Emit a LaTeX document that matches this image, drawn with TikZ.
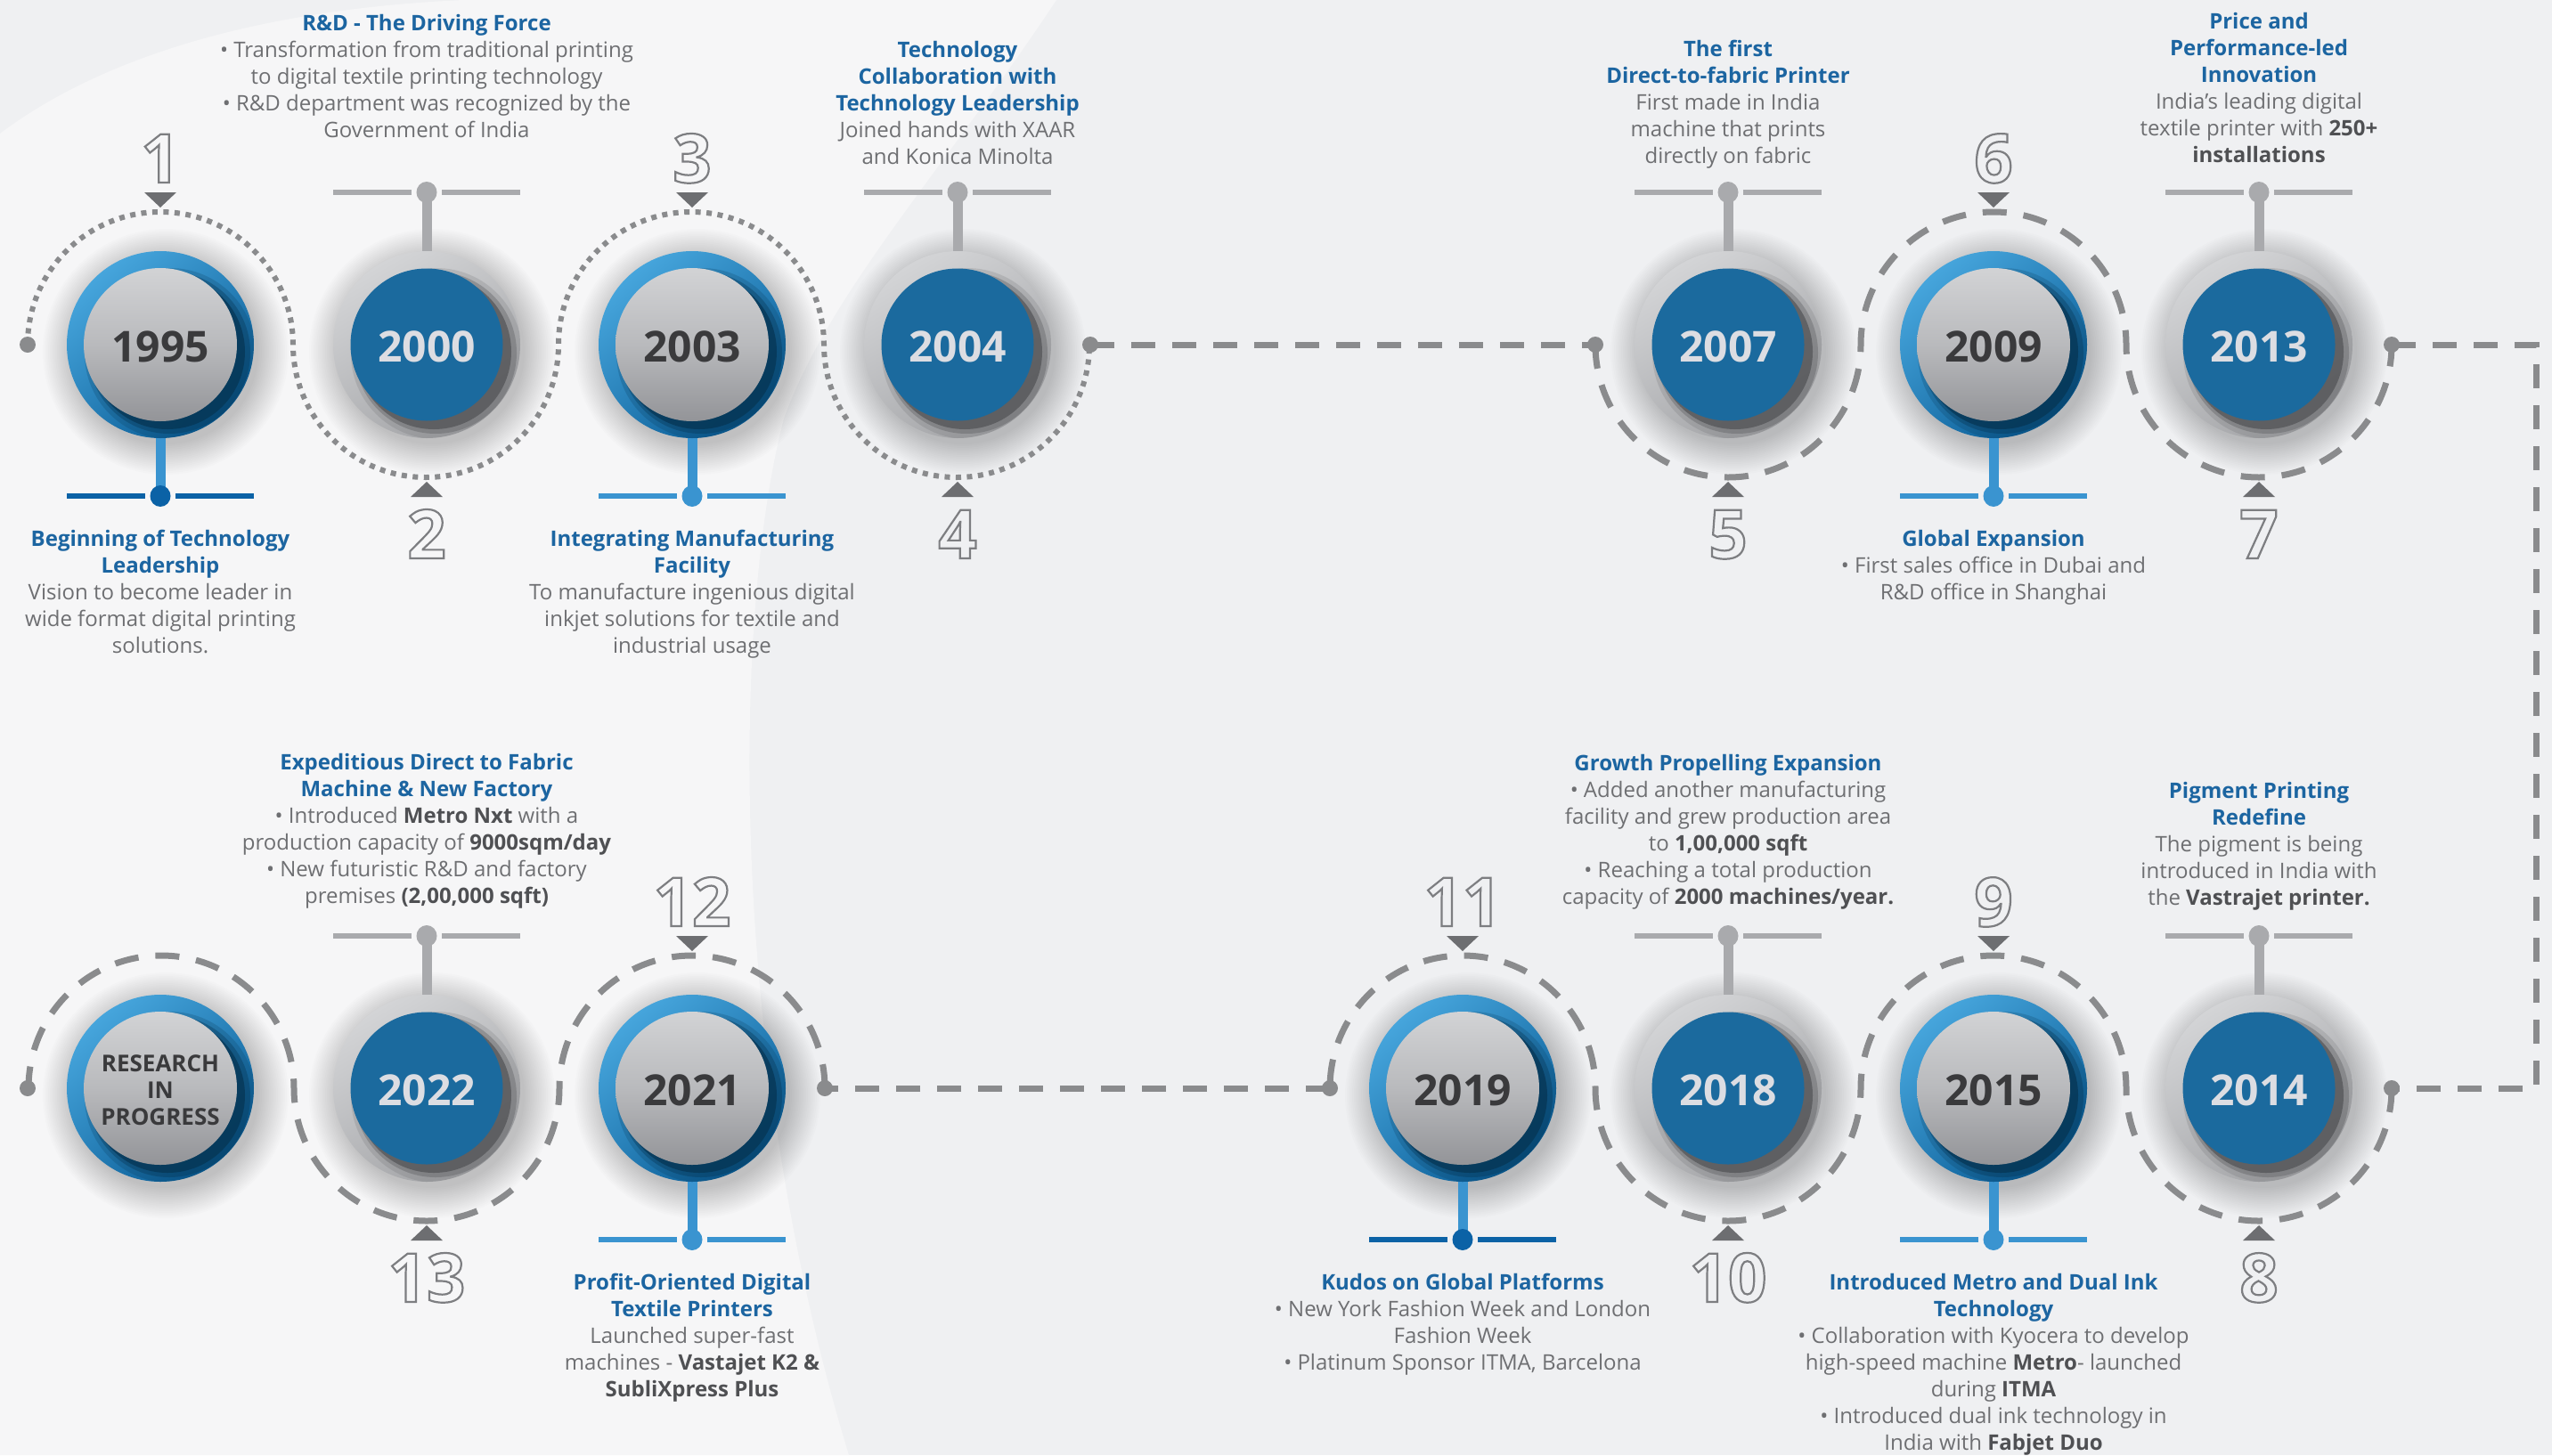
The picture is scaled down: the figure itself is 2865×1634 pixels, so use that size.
\documentclass[tikz,border=0pt]{standalone}
\usepackage{fontspec}
\setmainfont{Open Sans}
\usetikzlibrary{calc}
\definecolor{bgA}{HTML}{EFF0F2}
\definecolor{bgB}{HTML}{F6F6F7}
\definecolor{ttlc}{HTML}{1C65A1}
\definecolor{bodyc}{HTML}{6E6F72}
\definecolor{boldc}{HTML}{4F5053}
\definecolor{disc}{HTML}{1B6A9E}
\definecolor{yearw}{HTML}{DCDDE2}
\definecolor{yeard}{HTML}{3A3A3C}
\definecolor{lineg}{HTML}{8A8B8D}
\definecolor{trig}{HTML}{6D6E71}
\definecolor{pingray}{HTML}{A9AAAD}
\definecolor{pindark}{HTML}{0B62A6}
\definecolor{pinlight}{HTML}{3A94D0}
\definecolor{ringblueL}{HTML}{46A5DC}
\definecolor{ringblueD}{HTML}{0A5C95}
\definecolor{navy}{HTML}{05324F}
\definecolor{ringgrayL}{HTML}{D3D4D6}
\definecolor{ringgrayD}{HTML}{A3A4A7}
\definecolor{shad}{HTML}{48494C}
\definecolor{ballL}{HTML}{D2D3D5}
\definecolor{ballD}{HTML}{939498}
\definecolor{digit}{HTML}{7D7E81}
\newcommand\ttl[1]{\textcolor{ttlc}{\bfseries #1}}
\newcommand\bb[1]{\textcolor{boldc}{\bfseries #1}}
\newcommand\outl[1]{\special{pdf:literal direct 1 Tr 2.2 w}#1\special{pdf:literal direct 0 Tr}}
\tikzset{
  txt/.style={align=center, inner sep=0pt, font=\fontsize{24}{30}\selectfont, text=bodyc},
  yr/.style={inner sep=0pt, font=\fontsize{48}{48}\selectfont\bfseries},
  onum/.style={inner sep=0pt, font=\fontsize{76}{76}\selectfont\bfseries, text=digit},
  dotln/.style={draw=lineg, line width=6pt, dash pattern=on 6pt off 6.5pt},
  dashln/.style={draw=lineg, line width=7pt, dash pattern=on 27pt off 19pt},
}
\newcommand\halo[2]{%
  \foreach \k in {0,...,17} {\fill[black,opacity=.01] (#1+6,#2+8) circle[radius=104pt+\k*2pt];}
}
\newcommand\gcirc[4]{% name, x, y, year
  \shade[top color=ringgrayL,bottom color=ringgrayD,shading angle=30] (#2,#3) circle[radius=105pt];
  \begin{scope}
    \clip (#2,#3) circle[radius=105pt];
    \fill[shad,opacity=.15] (#2+11,#3+10) circle[radius=96pt];
    \fill[shad,opacity=.3] (#2+10,#3+9) circle[radius=91pt];
    \fill[shad,opacity=.6] (#2+8,#3+8) circle[radius=87pt];
  \end{scope}
  \fill[disc] (#2,#3) circle[radius=85.5pt];
  \node[yr,text=yearw] (#1) at (#2,#3+2) {#4};
}
\newcommand\bcirc[3]{% x, y
  \shade[top color=ringblueL,bottom color=ringblueD,shading angle=40] (#1,#2) circle[radius=105pt];
  \begin{scope}
    \clip (#1,#2) circle[radius=105pt];
    \fill[navy,opacity=.2] (#1+11,#2+10) circle[radius=96pt];
    \fill[navy,opacity=.35] (#1+10,#2+9) circle[radius=91pt];
    \fill[navy,opacity=.65] (#1+8,#2+8) circle[radius=87pt];
  \end{scope}
  \shade[top color=ballL,bottom color=ballD,middle color=ballL!60!ballD] (#1,#2) circle[radius=86pt];
}
\newcommand\pintop[3]{% x, cy, color
  \fill[#3] (#1-5.5,#2-171) rectangle (#1+5.5,#2-100);
  \fill[#3] (#1-105,#2-174.2) rectangle (#1-17,#2-167.8);
  \fill[#3] (#1+17,#2-174.2) rectangle (#1+105,#2-167.8);
  \fill[#3] (#1,#2-171) ellipse[x radius=11.5pt,y radius=12pt];
}
\newcommand\pinbot[3]{% x, cy, bar color
  \fill[pinlight] (#1-5.5,#2+100) rectangle (#1+5.5,#2+170);
  \fill[#3] (#1-105,#2+166.8) rectangle (#1-17,#2+173.2);
  \fill[#3] (#1+17,#2+166.8) rectangle (#1+105,#2+173.2);
  \fill[#3] (#1,#2+170) ellipse[x radius=11.5pt,y radius=12pt];
}
\newcommand\tritop[2]{\fill[trig] (#1-18,#2-171) -- (#1+18,#2-171) -- (#1,#2-154) -- cycle;}
\newcommand\tribot[2]{\fill[trig] (#1-18,#2+171) -- (#1+18,#2+171) -- (#1,#2+154) -- cycle;}
\newcommand\numtop[4]{\node[onum,anchor=base] (#1) at (#2,#3-182) {\outl{#4}};}
\newcommand\numbot[4]{\node[onum,anchor=base] (#1) at (#2,#3+240) {\outl{#4}};}
\begin{document}
\begin{tikzpicture}[x=1pt,y=-1pt]
\useasboundingbox (0,0) rectangle (2865,1634);
% background
\fill[bgA] (0,0) rectangle (2865,1634);
\fill[bgB] (0,150) .. controls (120,60) and (300,10) .. (520,0) -- (1186,0)
  .. controls (1060,190) and (930,330) .. (880,470)
  .. controls (820,700) and (820,1200) .. (953,1634) -- (0,1634) -- cycle;
% halos
\foreach \x in {180,479,777,1075,1940,2238,2536} {\halo{\x}{387}}
\foreach \x in {180,479,777,1642,1940,2238,2536} {\halo{\x}{1222}}
% chains
\coordinate (d1) at (31,387);
\coordinate (d2) at (1224,387);
\coordinate (d3) at (1791,387);
\coordinate (d4) at (2685,387);
\coordinate (d5) at (2685,1222);
\coordinate (d6) at (1493,1222);
\coordinate (d7) at (926,1222);
\coordinate (d8) at (31,1222);
\coordinate (c1) at (2847,387);
\coordinate (c2) at (2847,1222);
\draw[dotln] (d1) arc[start angle=180,end angle=0,radius=149pt]
  arc[start angle=180,end angle=360,radius=149pt]
  arc[start angle=180,end angle=0,radius=149pt]
  arc[start angle=180,end angle=360,radius=149pt];
\draw[dashln] (d3) arc[start angle=180,end angle=360,radius=149pt]
  arc[start angle=180,end angle=0,radius=149pt]
  arc[start angle=180,end angle=360,radius=149pt];
\draw[dashln] (d5) arc[start angle=0,end angle=-180,radius=149pt]
  arc[start angle=0,end angle=180,radius=149pt]
  arc[start angle=0,end angle=-180,radius=149pt]
  arc[start angle=0,end angle=180,radius=149pt];
\draw[dashln] (d7) arc[start angle=0,end angle=180,radius=149pt]
  arc[start angle=0,end angle=-180,radius=149pt]
  arc[start angle=0,end angle=180,radius=149pt];
\draw[dashln] (d2) -- (d3);
\draw[dashln] (d6) -- (d7);
\draw[dashln] (d4) -- (c1) -- (c2) -- (d5);
\foreach \d in {d1,d2,d3,d4,d5,d6,d7,d8} {\fill[lineg] (\d) circle[radius=9pt];}
% pins
\pinbot{180}{387}{pindark}
\pintop{479}{387}{pingray}
\pinbot{777}{387}{pinlight}
\pintop{1075}{387}{pingray}
\pintop{1940}{387}{pingray}
\pinbot{2238}{387}{pinlight}
\pintop{2536}{387}{pingray}
\pintop{479}{1222}{pingray}
\pinbot{777}{1222}{pinlight}
\pinbot{1642}{1222}{pindark}
\pintop{1940}{1222}{pingray}
\pinbot{2238}{1222}{pinlight}
\pintop{2536}{1222}{pingray}
% circles
\bcirc{180}{387}{} \node[yr,text=yeard] (y1995) at (180,389) {1995};
\gcirc{y2000}{479}{387}{2000}
\bcirc{777}{387}{} \node[yr,text=yeard] (y2003) at (777,389) {2003};
\gcirc{y2004}{1075}{387}{2004}
\gcirc{y2007}{1940}{387}{2007}
\bcirc{2238}{387}{} \node[yr,text=yeard] (y2009) at (2238,389) {2009};
\gcirc{y2013}{2536}{387}{2013}
\bcirc{180}{1222}{} \node[align=center,inner sep=0pt,font=\fontsize{26}{30}\selectfont\bfseries,text=yeard] (yres) at (180,1224) {RESEARCH\\IN\\PROGRESS};
\gcirc{y2022}{479}{1222}{2022}
\bcirc{777}{1222}{} \node[yr,text=yeard] (y2021) at (777,1224) {2021};
\bcirc{1642}{1222}{} \node[yr,text=yeard] (y2019) at (1642,1224) {2019};
\gcirc{y2018}{1940}{1222}{2018}
\bcirc{2238}{1222}{} \node[yr,text=yeard] (y2015) at (2238,1224) {2015};
\gcirc{y2014}{2536}{1222}{2014}
% triangles and numbers
\tritop{180}{387} \numtop{n1}{180}{387}{1}
\tribot{479}{387} \numbot{n2}{479}{387}{2}
\tritop{777}{387} \numtop{n3}{777}{387}{3}
\tribot{1075}{387} \numbot{n4}{1075}{387}{4}
\tribot{1940}{387} \numbot{n5}{1940}{387}{5}
\tritop{2238}{387} \numtop{n6}{2238}{387}{6}
\tribot{2536}{387} \numbot{n7}{2536}{387}{7}
\tribot{2536}{1222} \numbot{n8}{2536}{1222}{8}
\tritop{2238}{1222} \numtop{n9}{2238}{1222}{9}
\tribot{1940}{1222} \numbot{n10}{1940}{1222}{10}
\tritop{1642}{1222} \numtop{n11}{1642}{1222}{11}
\tritop{777}{1222} \numtop{n12}{777}{1222}{12}
\tribot{479}{1222} \numbot{n13}{479}{1222}{13}
% texts row 1
\node[txt,anchor=north] (tA) at (479,16) {\ttl{R\&D - The Driving Force}\\ • Transformation from traditional printing\\ to digital textile printing technology\\ • R\&D department was recognized by the\\ Government of India};
\node[txt,anchor=north] (tB) at (1075,46) {\ttl{Technology}\\ \ttl{Collaboration with}\\ \ttl{Technology Leadership}\\ Joined hands with XAAR\\ and Konica Minolta};
\node[txt,anchor=north] (tC) at (1940,45) {\ttl{The first}\\ \ttl{Direct-to-fabric Printer}\\ First made in India\\ machine that prints\\ directly on fabric};
\node[txt,anchor=north] (tD) at (2536,14) {\ttl{Price and}\\ \ttl{Performance-led}\\ \ttl{Innovation}\\ India’s leading digital\\ textile printer with \bb{250+}\\ \bb{installations}};
\node[txt,anchor=north] (tE) at (180,595) {\ttl{Beginning of Technology}\\ \ttl{Leadership}\\ Vision to become leader in\\ wide format digital printing\\ solutions.};
\node[txt,anchor=north] (tF) at (777,595) {\ttl{Integrating Manufacturing}\\ \ttl{Facility}\\ To manufacture ingenious digital\\ inkjet solutions for textile and\\ industrial usage};
\node[txt,anchor=north] (tG) at (2238,595) {\ttl{Global Expansion}\\ • First sales office in Dubai and\\ R\&D office in Shanghai};
% texts row 2
\node[txt,anchor=north] (tH) at (479,846) {\ttl{Expeditious Direct to Fabric}\\ \ttl{Machine \& New Factory}\\ • Introduced \bb{Metro Nxt} with a\\ production capacity of \bb{9000sqm/day}\\ • New futuristic R\&D and factory\\ premises \bb{(2,00,000 sqft)}};
\node[txt,anchor=north] (tI) at (1940,847) {\ttl{Growth Propelling Expansion}\\ • Added another manufacturing\\ facility and grew production area\\ to \bb{1,00,000 sqft}\\ • Reaching a total production\\ capacity of \bb{2000 machines/year.}};
\node[txt,anchor=north] (tJ) at (2536,878) {\ttl{Pigment Printing}\\ \ttl{Redefine}\\ The pigment is being\\ introduced in India with\\ the \bb{Vastrajet printer.}};
\node[txt,anchor=north] (tK) at (777,1430) {\ttl{Profit-Oriented Digital}\\ \ttl{Textile Printers}\\ Launched super-fast\\ machines - \bb{Vastajet K2 \&}\\ \bb{SubliXpress Plus}};
\node[txt,anchor=north] (tL) at (1642,1430) {\ttl{Kudos on Global Platforms}\\ • New York Fashion Week and London\\ Fashion Week\\ • Platinum Sponsor ITMA, Barcelona};
\node[txt,anchor=north] (tM) at (2238,1430) {\ttl{Introduced Metro and Dual Ink}\\ \ttl{Technology}\\ • Collaboration with Kyocera to develop\\ high-speed machine \bb{Metro}- launched\\ during \bb{ITMA}\\ • Introduced dual ink technology in\\ India with \bb{Fabjet Duo}};
\end{tikzpicture}
\end{document}
